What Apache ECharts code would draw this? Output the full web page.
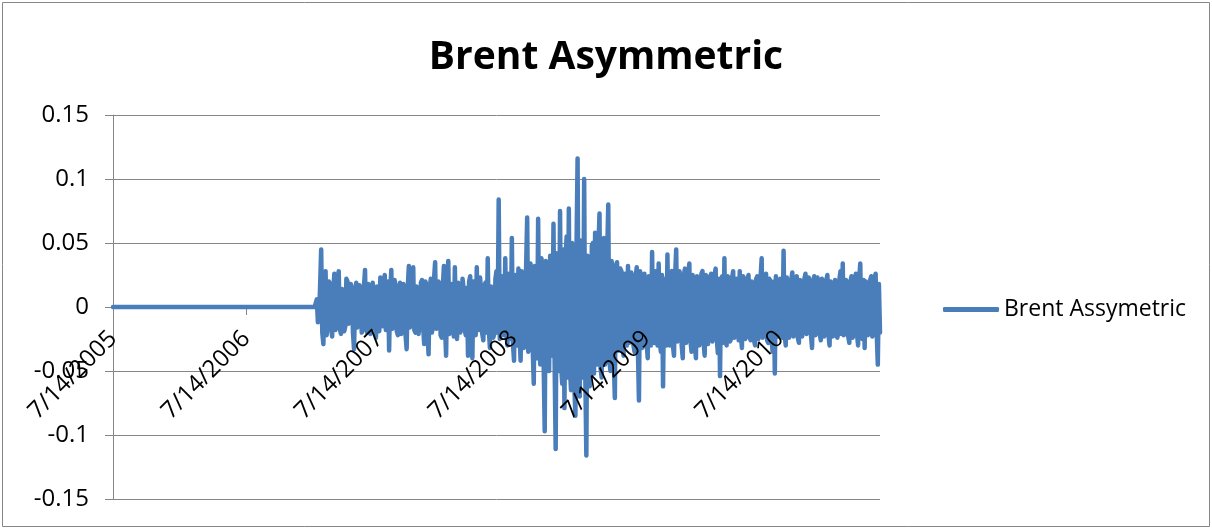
<!DOCTYPE html>
<html>
<head>
<meta charset="utf-8">
<script src="https://cdn.jsdelivr.net/npm/echarts@6/dist/echarts.min.js"></script>
<style>
  html, body { margin: 0; padding: 0; background: #ffffff; }
  #chart { width: 1212px; height: 529px; }
</style>
</head>
<body>
<div id="chart"></div>
<script>
// Days are counted from 7/14/2005 (day 0).
const lastDay = 2100;

// Quiet period, one value every 6 days: the series stays at zero until early 2007.
const flatStep = 6;
const flatValues = [
  0, 0, 0, 0, 0, 0, 0, 0, 0, 0,
  0, 0, 0, 0, 0, 0, 0, 0, 0, 0,
  0, 0, 0, 0, 0, 0, 0, 0, 0, 0,
  0, 0, 0, 0, 0, 0, 0, 0, 0, 0,
  0, 0, 0, 0, 0, 0, 0, 0, 0, 0,
  0, 0, 0, 0, 0, 0, 0, 0, 0, 0,
  0, 0, 0, 0, 0, 0, 0, 0, 0, 0,
  0, 0, 0, 0, 0, 0, 0, 0, 0, 0,
  0, 0, 0, 0, 0, 0, 0, 0, 0, 0,
  0, 0, 0
];

// Active period, one value every 3 days from day 558 (early 2007) to spring 2011.
const activeStart = 558;
const activeStep = 3;
const activeValues = [
  0.006, -0.012, -0.009, 0.016, 0.045, -0.020, -0.029, 0.014, 0.028, -0.022,
  -0.012, 0.020, 0.018, -0.016, -0.023, 0.012, 0.026, -0.018, -0.010, 0.021,
  0.028, -0.017, -0.021, 0.014, 0.012, -0.019, -0.015, 0.022, 0.020, -0.013,
  -0.008, 0.018, 0.015, -0.020, -0.033, 0.010, 0.019, -0.016, -0.012, 0.017,
  0.010, -0.020, -0.018, 0.015, 0.029, -0.014, -0.020, 0.018, 0.014, -0.021,
  -0.010, 0.019, 0.018, -0.012, -0.024, 0.016, 0.008, -0.019, 0.023, -0.011,
  -0.015, 0.017, 0.025, -0.018, -0.012, 0.020, -0.034, 0.012, 0.029, -0.017,
  -0.010, 0.021, 0.016, -0.019, -0.022, 0.014, 0.019, -0.021, -0.016, 0.018,
  0.012, -0.022, -0.033, 0.015, 0.032, -0.016, -0.014, 0.020, 0.031, -0.018,
  -0.020, 0.016, 0.013, -0.021, -0.009, 0.019, 0.021, -0.014, -0.029, 0.020,
  0.018, -0.019, -0.037, 0.013, 0.022, -0.020, -0.015, 0.022, 0.035, -0.017,
  -0.012, 0.020, 0.017, -0.022, -0.024, 0.016, 0.032, -0.015, -0.038, 0.017,
  0.036, -0.021, -0.019, 0.018, 0.015, -0.023, 0.031, -0.014, -0.025, 0.019,
  0.020, -0.020, -0.010, 0.022, 0.014, -0.018, -0.022, 0.015, -0.038, 0.020,
  0.024, -0.016, -0.040, 0.020, 0.021, -0.022, 0.031, -0.015, -0.018, 0.023,
  0.012, -0.021, -0.026, 0.017, 0.019, -0.020, 0.038, -0.018, -0.032, 0.016,
  0.015, -0.024, -0.021, 0.022, 0.028, -0.020, 0.084, -0.025, -0.018, 0.024,
  0.025, -0.022, 0.038, -0.020, -0.030, 0.026, 0.020, -0.025, 0.054, -0.028,
  -0.042, 0.025, 0.012, -0.030, 0.030, -0.020, -0.042, 0.028, 0.020, -0.032,
  -0.015, 0.030, 0.070, -0.035, -0.028, 0.034, 0.025, -0.030, -0.060, 0.032,
  0.018, -0.040, 0.069, -0.030, -0.045, 0.038, 0.030, -0.042, -0.097, 0.036,
  0.025, -0.045, -0.050, 0.040, 0.035, -0.038, 0.065, -0.040, -0.111, 0.042,
  0.030, -0.050, 0.075, -0.045, -0.060, 0.045, -0.079, 0.038, 0.055, -0.055,
  0.077, -0.048, -0.065, 0.050, 0.040, -0.060, -0.085, 0.044, 0.116, -0.058,
  -0.070, 0.052, 0.045, -0.055, 0.100, -0.050, -0.116, 0.040, 0.030, -0.062,
  -0.060, 0.048, 0.050, -0.052, 0.058, -0.040, -0.045, 0.046, 0.073, -0.048,
  -0.055, 0.042, 0.054, -0.045, -0.040, 0.040, 0.080, -0.042, -0.050, 0.036,
  0.030, -0.040, -0.071, 0.032, 0.035, -0.034, -0.030, 0.030, 0.028, -0.032,
  -0.038, 0.026, 0.025, -0.030, 0.032, -0.028, -0.025, 0.027, 0.020, -0.030,
  -0.035, 0.024, 0.031, -0.030, -0.073, 0.028, 0.022, -0.032, -0.030, 0.026,
  0.025, -0.028, -0.040, 0.024, 0.018, -0.030, 0.043, -0.026, -0.028, 0.028,
  0.020, -0.030, 0.034, -0.026, -0.035, 0.025, -0.062, 0.020, 0.022, -0.030,
  0.041, -0.028, -0.030, 0.026, 0.028, -0.030, -0.038, 0.024, 0.045, -0.027,
  -0.025, 0.028, 0.020, -0.030, -0.040, 0.025, 0.030, -0.028, -0.022, 0.027,
  0.034, -0.026, -0.035, 0.025, 0.018, -0.028, -0.040, 0.024, 0.025, -0.030,
  -0.015, 0.026, 0.028, -0.028, -0.038, 0.025, 0.022, -0.029, -0.030, 0.024,
  0.026, -0.027, -0.020, 0.025, 0.030, -0.024, -0.036, 0.022, -0.054, 0.020,
  0.024, -0.028, 0.038, -0.026, -0.030, 0.024, 0.020, -0.027, -0.025, 0.023,
  0.028, -0.024, -0.020, 0.022, 0.015, -0.026, 0.028, -0.022, -0.032, 0.024,
  0.022, -0.025, -0.018, 0.022, 0.025, -0.024, -0.026, 0.020, 0.020, -0.026,
  -0.030, 0.022, 0.024, -0.025, -0.015, 0.023, 0.038, -0.024, -0.022, 0.021,
  0.026, -0.026, -0.028, 0.022, 0.020, -0.024, -0.035, 0.020, -0.052, 0.024,
  0.025, -0.023, -0.020, 0.022, 0.018, -0.024, 0.044, -0.022, -0.030, 0.023,
  0.022, -0.024, -0.025, 0.021, 0.027, -0.023, -0.020, 0.022, 0.024, -0.024,
  -0.028, 0.021, 0.018, -0.023, -0.022, 0.022, 0.026, -0.021, -0.018, 0.023,
  0.020, -0.022, -0.032, 0.020, 0.024, -0.022, -0.015, 0.023, 0.022, -0.021,
  -0.026, 0.022, 0.020, -0.023, -0.018, 0.021, 0.025, -0.022, -0.030, 0.020,
  0.016, -0.023, -0.024, 0.021, 0.022, -0.024, -0.020, 0.022, 0.028, -0.021,
  0.034, -0.022, -0.022, 0.021, 0.018, -0.023, -0.028, 0.020, 0.024, -0.024,
  -0.020, 0.022, 0.026, -0.021, -0.030, 0.022, 0.034, -0.023, -0.025, 0.021,
  -0.032, 0.020, 0.020, -0.022, -0.022, 0.021, 0.024, -0.023, -0.018, 0.022,
  0.026, -0.020, -0.045, 0.018, -0.020
];

// Year marks on the date axis (days since 7/14/2005).
const xTickDays = [0, 365, 730, 1096, 1461, 1826];
const xTickLabels = ['7/14/2005', '7/14/2006', '7/14/2007', '7/14/2008', '7/14/2009', '7/14/2010'];

const seriesName = 'Brent Assymetric';
const titleText = 'Brent Asymmetric';

const seriesData = flatValues.map((v, k) => [k * flatStep, v])
  .concat(activeValues.map((v, j) => [activeStart + j * activeStep, v]));

const FONT = '"Open Sans", "Noto Sans", sans-serif';
const GRID_COLOR = '#868686';
const LINE_COLOR = '#4a7ebb';

// Plot box in pixels; the date axis crosses the value axis at 0 (mid-height).
const PLOT = { left: 113, right: 332, top: 115, bottom: 30 };
const CHART_H = 529;
const zeroFromBottom = CHART_H - (PLOT.top + (CHART_H - PLOT.top - PLOT.bottom) / 2);

const chart = echarts.init(document.getElementById('chart'), null, { renderer: 'canvas' });
chart.setOption({
  animation: false,
  backgroundColor: '#ffffff',
  title: {
    text: titleText,
    left: 'center',
    top: 33,
    textStyle: { fontFamily: FONT, fontWeight: 'bold', fontSize: 39, color: '#000000' }
  },
  legend: {
    data: [seriesName],
    orient: 'vertical',
    left: 938,
    top: 293,
    icon: 'roundRect',
    itemWidth: 56,
    itemHeight: 5,
    itemStyle: { color: LINE_COLOR, borderWidth: 0 },
    textStyle: { fontFamily: FONT, fontSize: 23, color: '#000000' }
  },
  grid: [
    // main plot
    { left: PLOT.left, right: PLOT.right, top: PLOT.top, bottom: PLOT.bottom,
      containLabel: false, outerBoundsMode: 'none' },
    // upper half: carries the date labels along the zero line
    { left: PLOT.left, right: PLOT.right, top: PLOT.top, bottom: zeroFromBottom,
      containLabel: false, outerBoundsMode: 'none' }
  ],
  xAxis: [
    {
      // axis line and year ticks on the zero line, beneath the series
      gridIndex: 0,
      type: 'value',
      min: 0,
      max: lastDay,
      axisLine: { show: true, onZero: true, lineStyle: { color: GRID_COLOR, width: 1 } },
      axisTick: { show: true, length: 8, customValues: xTickDays, lineStyle: { color: GRID_COLOR } },
      axisLabel: { show: false },
      splitLine: { show: false }
    },
    {
      // date labels, drawn above the series
      gridIndex: 1,
      type: 'value',
      min: 0,
      max: lastDay,
      z: 10,
      axisLine: { show: false, onZero: false },
      axisTick: { show: false },
      axisLabel: {
        customValues: xTickDays,
        rotate: 45,
        margin: 28,
        fontFamily: FONT,
        fontSize: 24,
        color: '#000000',
        formatter: (v) => {
          const i = xTickDays.indexOf(v);
          return i >= 0 ? xTickLabels[i] : '';
        }
      },
      splitLine: { show: false }
    }
  ],
  yAxis: [
    {
      gridIndex: 0,
      type: 'value',
      min: -0.15,
      max: 0.15,
      interval: 0.05,
      axisLine: { show: true, lineStyle: { color: GRID_COLOR, width: 1 } },
      axisTick: { show: true, length: 8, lineStyle: { color: GRID_COLOR } },
      axisLabel: { margin: 24, fontFamily: FONT, fontSize: 24, color: '#000000' },
      splitLine: { show: true, lineStyle: { color: GRID_COLOR, width: 1 } }
    },
    { gridIndex: 1, type: 'value', min: 0, max: 1, show: false }
  ],
  series: [{
    name: seriesName,
    type: 'line',
    xAxisIndex: 0,
    yAxisIndex: 0,
    data: seriesData,
    symbol: 'none',
    showSymbol: false,
    sampling: null,
    lineStyle: { color: LINE_COLOR, width: 4.5, cap: 'round', join: 'round' },
    itemStyle: { color: LINE_COLOR },
    z: 3
  }],
  graphic: [{
    type: 'rect',
    silent: true,
    shape: { x: 2.5, y: 2.5, width: 1207, height: 524 },
    style: { fill: 'none', stroke: GRID_COLOR, lineWidth: 1 }
  }]
});
</script>
</body>
</html>
